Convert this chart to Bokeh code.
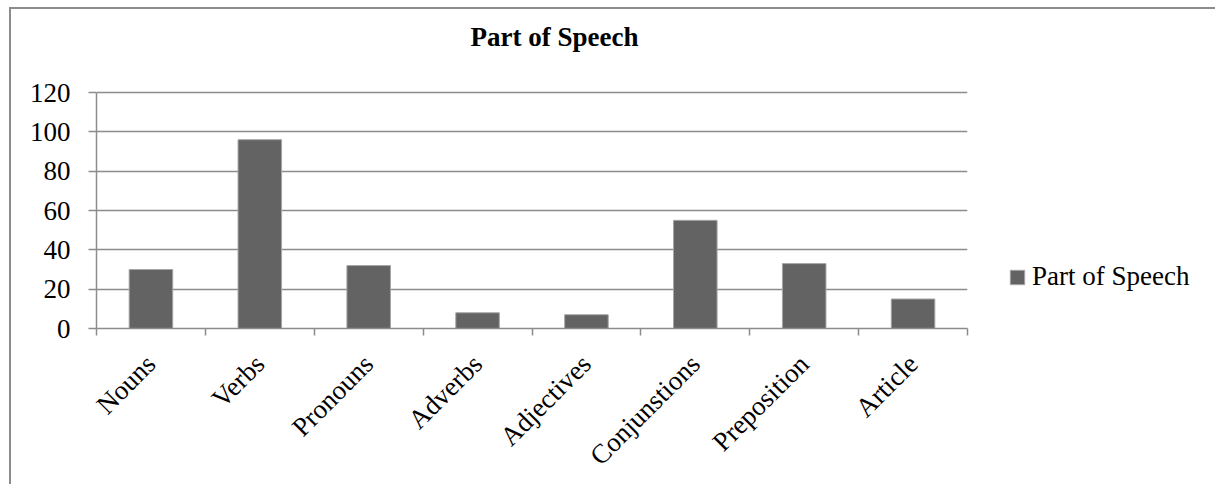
import math
from bokeh.plotting import figure
from bokeh.models import (Range1d, FactorRange, LinearAxis, FixedTicker, Label,
                          Legend, LegendItem, ColumnDataSource)
from bokeh.embed import file_html
from bokeh.resources import INLINE

# ---- data ----
categories = ["Nouns", "Verbs", "Pronouns", "Adverbs", "Adjectives",
              "Conjunstions", "Preposition", "Article"]
counts = [30, 96, 32, 8, 7, 55, 33, 15]
y_ticks = [0, 20, 40, 60, 80, 100, 120]
series_name = "Part of Speech"
title_text = "Part of Speech"

FONT = "Liberation Serif"
GRAY = "#8c8c8c"
BAR = "#636363"

# layout (pixels): value axis spans 236 px; frame extends above it to hold the title
AXIS_PX = 236
FRAME_TOP_PAD = 80
Y_MAX = y_ticks[-1]
y_end = Y_MAX * (AXIS_PX + FRAME_TOP_PAD) / AXIS_PX

src = ColumnDataSource(dict(cat=categories, val=counts))

p = figure(frame_width=871, frame_height=AXIS_PX + FRAME_TOP_PAD,
           x_range=FactorRange(factors=categories, range_padding=0),
           y_range=Range1d(0, y_end),
           x_axis_type=None, title_location=None,
           output_backend="svg", toolbar_location=None,
           min_border_left=96, min_border_right=0,
           min_border_top=92 - FRAME_TOP_PAD, min_border_bottom=151)
p.outline_line_color = None
p.border_fill_alpha = 0
p.styles = {"box-shadow": "inset 9px 7px 0 0 #ffffff, inset 11px 9px 0 0 #8c8c8c"}

r = p.vbar(x="cat", top="val", width=0.4, source=src,
           fill_color=BAR, line_color="#a6a6a6", line_width=1)

# y axis
p.yaxis.ticker = y_ticks
p.yaxis.bounds = (0, Y_MAX)
p.yaxis.axis_line_color = GRAY
p.yaxis.axis_line_width = 1.5
p.yaxis.major_tick_line_color = GRAY
p.yaxis.major_tick_line_width = 1.5
p.yaxis.major_tick_out = 8
p.yaxis.major_tick_in = 0
p.yaxis.minor_tick_line_color = None
p.yaxis.major_label_standoff = 18
p.yaxis.major_label_text_font = FONT
p.yaxis.major_label_text_font_size = "27px"
p.yaxis.major_label_text_color = "black"
p.ygrid.grid_line_color = GRAY
p.ygrid.grid_line_width = 1.5

# x axis: labels at category centres, ticks at category boundaries
n = len(categories)
centers = [i + 0.5 for i in range(n)]
xaxis = LinearAxis(ticker=FixedTicker(ticks=centers, minor_ticks=list(range(n + 1))),
                   major_label_overrides={c: lab for c, lab in zip(centers, categories)})
xaxis.axis_line_color = GRAY
xaxis.axis_line_width = 1.5
xaxis.major_tick_line_color = None
xaxis.minor_tick_line_color = GRAY
xaxis.minor_tick_line_width = 1.5
xaxis.minor_tick_out = 7
xaxis.minor_tick_in = 0
xaxis.major_label_orientation = math.pi / 4
xaxis.major_label_standoff = 24
xaxis.major_label_text_font = FONT
xaxis.major_label_text_font_size = "27px"
xaxis.major_label_text_color = "black"
p.add_layout(xaxis, "below")

# title (inside the extended frame)
p.add_layout(Label(x=374, y=292, x_units="screen", y_units="screen",
                   text=title_text, text_font=FONT, text_font_style="bold",
                   text_font_size="27px", text_align="left",
                   text_baseline="alphabetic", text_color="black"))

# legend
legend = Legend(items=[LegendItem(label=series_name, renderers=[r])],
                location=(41, 36), border_line_color=None,
                background_fill_alpha=0, padding=0, margin=0,
                glyph_width=18, glyph_height=18, label_standoff=6,
                label_text_font=FONT, label_text_font_size="27px",
                label_text_color="black")
p.add_layout(legend, "right")

open("out.html", "w").write(file_html(p, INLINE))
